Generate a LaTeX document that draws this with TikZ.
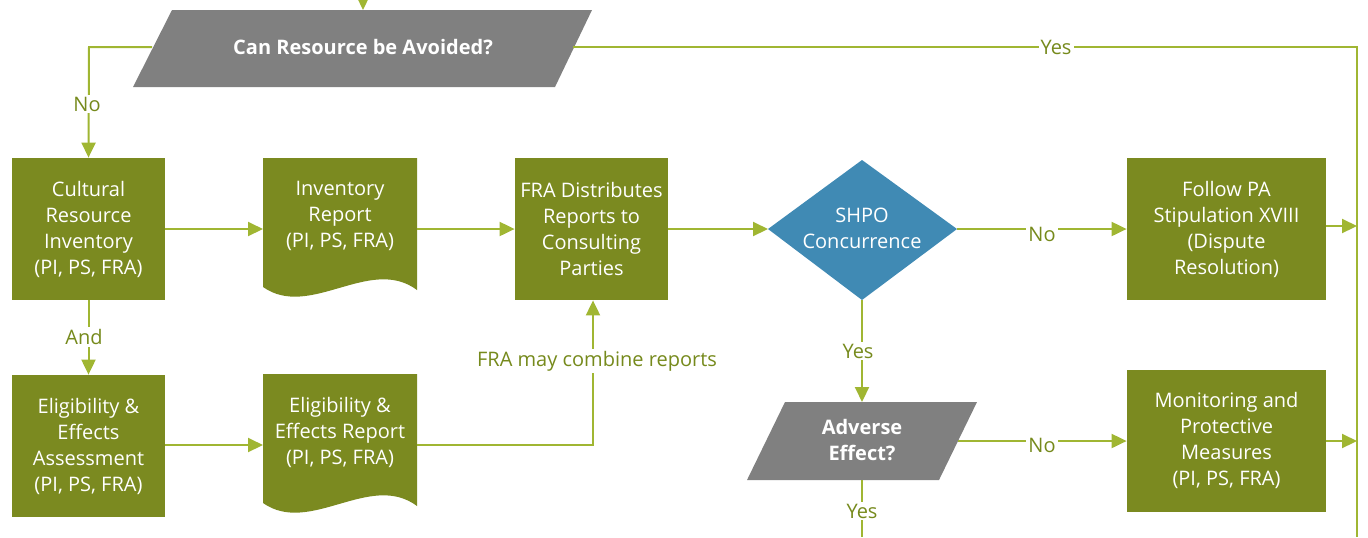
\documentclass[tikz,border=0pt]{standalone}
\usepackage{fontspec}
\setmainfont{Open Sans}
\usetikzlibrary{arrows.meta}
\definecolor{boxgreen}{RGB}{123,138,32}
\definecolor{linegreen}{RGB}{160,182,50}
\definecolor{labelgreen}{RGB}{118,138,28}
\definecolor{shpoblue}{RGB}{64,138,180}
\definecolor{decgray}{RGB}{128,128,128}
\begin{document}
\begin{tikzpicture}[x=0.5pt,y=-0.5pt,
  txt/.style={font=\fontsize{10}{13}\selectfont, text=white, align=center, inner sep=0pt},
  boldtxt/.style={font=\fontsize{10}{12.8}\selectfont\bfseries, text=white, align=center, inner sep=0pt},
  box/.style={txt, fill=boxgreen, minimum width=76.5pt, minimum height=71pt},
  wbox/.style={txt, fill=boxgreen, minimum width=99.5pt, minimum height=71pt},
  conn/.style={draw=linegreen, line width=1pt},
  arr/.style={conn, -{Triangle[length=7.5pt,width=7pt]}},
  lbl/.style={font=\fontsize{10}{12}\selectfont, text=labelgreen, fill=white, inner sep=1pt}]
\useasboundingbox (0,0) rectangle (1368,537);

% ---------- shapes ----------
% top decision
\fill[decgray] (172,10) -- (592,10) -- (555,87) -- (133,87) -- cycle;
\node[boldtxt] (avoid) at (363,47) {Can Resource be Avoided?};
\coordinate (avoid-n) at (363,10);
\coordinate (avoid-w) at (152,47);
\coordinate (avoid-e) at (573,47);
\coordinate (top-in) at (363,0);

% row 1
\node[box] (cri) at (88.5,229) {Cultural\\Resource\\Inventory\\(PI, PS, FRA)};
\fill[boxgreen] (263,158) -- (417,158) -- (417,290) .. controls (370,255) and (310,320) .. (263,287) -- cycle;
\node[txt] (invrep) at (340,216) {Inventory\\Report\\(PI, PS, FRA)};
\coordinate (invrep-w) at (263,229);
\coordinate (invrep-e) at (417,229);
\node[box] (dist) at (591.5,229) {FRA Distributes\\Reports to\\Consulting\\Parties};
\fill[shpoblue] (768,229) -- (862,160) -- (957,229) -- (862,300) -- cycle;
\node[txt] (shpo) at (862,228) {SHPO\\Concurrence};
\coordinate (shpo-w) at (768,229);
\coordinate (shpo-e) at (957,229);
\coordinate (shpo-s) at (862,300);
\node[wbox] (follow) at (1226.5,229) {Follow PA\\Stipulation XVIII\\(Dispute\\Resolution)};

% row 2
\node[box] (eea) at (88.5,446) {Eligibility \&\\Effects\\Assessment\\(PI, PS, FRA)};
\fill[boxgreen] (263,374) -- (417,374) -- (417,506) .. controls (370,471) and (310,536) .. (263,503) -- cycle;
\node[txt] (eerep) at (340,432) {Eligibility \&\\Effects Report\\(PI, PS, FRA)};
\coordinate (eerep-w) at (263,445);
\coordinate (eerep-e) at (417,445);
\fill[decgray] (785,402) -- (977,402) -- (939,480) -- (747,480) -- cycle;
\node[boldtxt] (adverse) at (862,440) {Adverse\\Effect?};
\coordinate (adv-n) at (862,402);
\coordinate (adv-e) at (958,441);
\coordinate (adv-s) at (862,480);
\node[wbox] (monitor) at (1226.5,440.5) {Monitoring and\\Protective\\Measures\\(PI, PS, FRA)};

% right rail and free ends
\coordinate (rail-top) at (1357,47);
\coordinate (rail-bot) at (1357,537);
\coordinate (rail-f) at (1357,226);
\coordinate (rail-m) at (1357,441);
\coordinate (bot-out) at (862,537);
\coordinate (comb) at (593,445);
\coordinate (no-corner) at (89,47);

% ---------- connectors ----------
\draw[arr] (top-in) -- (avoid-n);
\draw[arr] (avoid-w) -- (no-corner) -- (cri.north);
\node[lbl] at (87,104) {No};
\draw[conn] (avoid-e) -- (rail-top) -- (rail-bot);
\node[lbl] at (1056,47) {Yes};

\draw[arr] (cri.east) -- (invrep-w);
\draw[arr] (invrep-e) -- (dist.west);
\draw[arr] (dist.east) -- (shpo-w);
\draw[arr] (shpo-e) -- (follow.west |- shpo-e);
\node[lbl] at (1042,234) {No};
\draw[arr] (follow.east |- rail-f) -- (rail-f);

\draw[arr] (cri.south) -- (eea.north);
\node[lbl] at (84,337) {And};
\draw[arr] (eea.east |- eerep-w) -- (eerep-w);
\draw[arr] (eerep-e) -- (comb) -- (dist.south -| comb);
\node[lbl] at (597,361) {FRA may combine reports};
\draw[arr] (shpo-s) -- (adv-n);
\node[lbl] at (858,351) {Yes};
\draw[arr] (adv-e) -- (monitor.west |- adv-e);
\node[lbl] at (1042,445) {No};
\draw[arr] (monitor.east |- rail-m) -- (rail-m);
\draw[conn] (adv-s) -- (bot-out);
\node[lbl] at (862,511) {Yes};
\end{tikzpicture}
\end{document}
